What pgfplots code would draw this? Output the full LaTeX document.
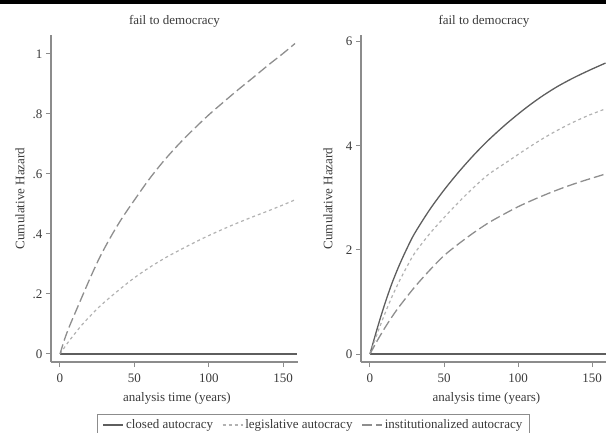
\documentclass[border=0pt]{standalone}
\usepackage{fontspec}
\setmainfont{Liberation Serif}
\usepackage{pgfplots}
\pgfplotsset{compat=1.18}

\definecolor{axisgray}{HTML}{8C8C8C}
\definecolor{txt}{HTML}{3A3A3A}
\definecolor{c_closed}{HTML}{5E5E5E}
\definecolor{c_legis}{HTML}{B2B2B2}
\definecolor{c_inst}{HTML}{8E8E8E}

\newcommand{\fs}{\fontsize{13}{15}\selectfont}

\pgfplotsset{
  hazard/.style={
    scale only axis,
    height=327pt,
    axis lines*=left,
    axis line style={axisgray, line width=1.3pt},
    tick align=outside,
    major tick length=5pt,
    tick style={axisgray, line width=1pt},
    xmin=-6.05, xmax=160,
    xtick={0,50,100,150},
    /pgf/number format/assume math mode=true,
    tick label style={font=\fs, text=txt},
    xticklabel style={yshift=-3pt},
    label style={font=\fs, text=txt},
    title style={font=\fs, text=txt, yshift=-2pt},
    title={fail to democracy},
    xlabel={analysis time (years)},
    ylabel={Cumulative Hazard},
    xlabel style={at={(axis description cs:0.51,-0.112)}, anchor=center},
    clip=false,
  },
  closed/.style={c_closed, line width=1.3pt, solid, smooth},
  legis/.style={c_legis, line width=1.2pt, dash pattern=on 3pt off 3pt, smooth},
  inst/.style={c_inst, line width=1.3pt, dash pattern=on 10pt off 4pt, smooth},
}

\begin{document}
\begin{tikzpicture}
\useasboundingbox (0,0) rectangle (606pt,432pt);
\fill[black] (0,428pt) rectangle (606pt,432pt);

% left panel
\begin{axis}[hazard,
  at={(51pt,70pt)}, anchor=south west,
  width=247pt,
  ymin=-0.0267, ymax=1.0633,
  ytick={0,0.2,0.4,0.6,0.8,1},
  yticklabels={0,.2,.4,.6,.8,1},
  ylabel style={at={(axis description cs:-0.1255,0.5)}, anchor=center},
  legend style={at={(1.063,-0.16)}, anchor=north, legend columns=3,
    draw=axisgray, line width=0.8pt, font=\fs, text=txt, fill=white,
    inner xsep=5pt, inner ysep=3pt,
    /tikz/every even column/.append style={column sep=7pt}},
  legend image code/.code={\draw[#1] (0pt,0pt) -- (20pt,0pt);},
]
\addplot[closed] coordinates {(0,0) (159,0)};
\addplot[legis] coordinates {
  (0,0) (5,0.036) (10,0.068) (16,0.104) (27,0.160) (40,0.215) (50,0.254)
  (60,0.288) (72,0.324) (85,0.358) (95,0.383) (105,0.406) (117,0.432)
  (130,0.458) (140,0.477) (150,0.497) (159,0.516)
};
\addplot[inst] coordinates {
  (0,0) (3,0.048) (6,0.088) (10,0.135) (20,0.250) (27,0.325) (35,0.398)
  (42,0.455) (50,0.513) (60,0.583) (70,0.645) (80,0.700) (90,0.750)
  (100,0.797) (110,0.840) (120,0.882) (130,0.922) (140,0.963) (150,1.002)
  (158,1.035)
};
\legend{closed autocracy, legislative autocracy, institutionalized autocracy}
\end{axis}

% right panel
\begin{axis}[hazard,
  at={(361pt,70pt)}, anchor=south west,
  width=246pt,
  ymin=-0.1537, ymax=6.129,
  ytick={0,2,4,6},
  ylabel style={at={(axis description cs:-0.134,0.5)}, anchor=center},
]
\addplot[closed] coordinates {(0,0) (160,0)};
\addplot[closed] coordinates {
  (0,0) (5,0.50) (10,0.96) (15,1.37) (20,1.72) (25,2.03) (30,2.31)
  (40,2.76) (50,3.15) (60,3.50) (70,3.82) (80,4.11) (92,4.42) (104,4.70)
  (115,4.93) (126,5.13) (137,5.30) (148,5.45) (159,5.59)
};
\addplot[legis] coordinates {
  (0,0) (5,0.40) (10,0.77) (15,1.11) (20,1.41) (25,1.68) (30,1.93)
  (40,2.30) (50,2.62) (60,2.92) (70,3.20) (80,3.45) (92,3.68) (104,3.91)
  (115,4.11) (126,4.29) (137,4.45) (148,4.59) (159,4.71)
};
\addplot[inst] coordinates {
  (0,0) (5,0.26) (10,0.50) (15,0.72) (20,0.92) (30,1.28) (40,1.60)
  (50,1.89) (60,2.12) (70,2.33) (80,2.52) (90,2.68) (100,2.83) (110,2.96)
  (120,3.08) (130,3.19) (140,3.29) (150,3.38) (158,3.45)
};
\end{axis}
\end{tikzpicture}
\end{document}
